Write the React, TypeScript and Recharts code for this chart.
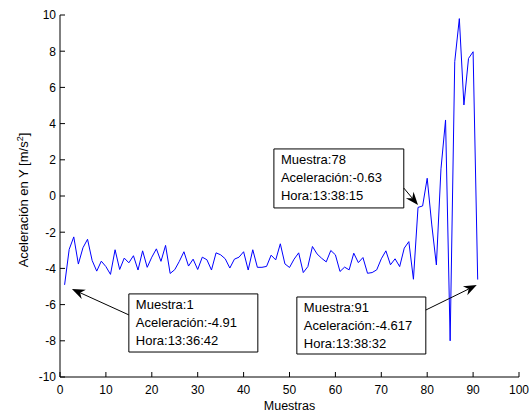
import React from 'react';
import { LineChart, Line, XAxis, YAxis, ReferenceArea, ReferenceLine } from 'recharts';

const FONT = '"Liberation Sans", Arial, Helvetica, sans-serif';

// Sample numbers (Muestras) 1..91
const samples: number[] = Array.from({ length: 91 }, (_, i) => i + 1);

// Acceleration in Y [m/s^2]
const accelY: number[] = [
  -4.91, -2.95, -2.26, -3.76, -2.86, -2.39, -3.56, -4.15, -3.6, -3.9,
  -4.33, -2.97, -4.06, -3.43, -3.69, -3.3, -4.09, -3.03, -3.94, -3.38,
  -2.92, -3.61, -2.73, -4.28, -4.07, -3.61, -3.08, -3.87, -3.49, -4.06,
  -3.38, -3.52, -4.09, -3.14, -3.25, -3.47, -3.98, -3.49, -3.38, -3.08,
  -4.09, -2.97, -3.94, -3.94, -3.89, -3.27, -3.53, -2.64, -3.75, -3.95,
  -3.49, -3.14, -4.23, -3.9, -2.79, -3.2, -3.44, -3.64, -3.01, -3.25,
  -4.17, -3.93, -4.08, -3.16, -3.68, -3.4, -4.27, -4.23, -4.08, -3.47,
  -3.03, -3.8, -3.47, -3.9, -2.88, -2.52, -4.6, -0.63, -0.55, 0.98,
  -1.6, -3.81, 1.5, 4.2, -8.0, 7.42, 9.8, 5.03, 7.6, 7.97,
  -4.617,
];

const xTicks: number[] = [0, 10, 20, 30, 40, 50, 60, 70, 80, 90, 100];
const yTicks: number[] = [-10, -8, -6, -4, -2, 0, 2, 4, 6, 8, 10];

const noteLines1: string[] = ['Muestra:1', 'Aceleración:-4.91', 'Hora:13:36:42'];
const noteLines78: string[] = ['Muestra:78', 'Aceleración:-0.63', 'Hora:13:38:15'];
const noteLines91: string[] = ['Muestra:91', 'Aceleración:-4.617', 'Hora:13:38:32'];

// annotation placement (data coordinates)
const notes = [
  { lines: noteLines1, box: { x1: 15.0, x2: 43.1, y1: -5.41, y2: -8.62 }, tail: { x: 15.0, y: -6.57 }, tip: { x: 2.6, y: -5.14 } },
  { lines: noteLines78, box: { x1: 46.6, x2: 74.9, y1: 2.6, y2: -0.66 }, tail: { x: 74.9, y: 0.44 }, tip: { x: 78.0, y: -0.5 } },
  { lines: noteLines91, box: { x1: 51.6, x2: 79.7, y1: -5.58, y2: -8.73 }, tail: { x: 79.7, y: -6.3 }, tip: { x: 90.8, y: -4.92 } },
];

const data = samples.map((s, i) => ({ muestra: s, acel: accelY[i] }));

const TICK = 5;

const BottomTick = (props: any) => {
  const { x, y, payload } = props;
  return (
    <g>
      <line x1={x} y1={y} x2={x} y2={y - TICK} stroke="#000" strokeWidth={1} />
      <text x={x} y={y + 17} textAnchor="middle" fontFamily={FONT} fontSize={12} fill="#000">
        {payload.value}
      </text>
    </g>
  );
};

const TopTick = (props: any) => {
  const { x, y } = props;
  return <line x1={x} y1={y} x2={x} y2={y + TICK} stroke="#000" strokeWidth={1} />;
};

const LeftTick = (props: any) => {
  const { x, y, payload } = props;
  return (
    <g>
      <line x1={x} y1={y} x2={x + TICK} y2={y} stroke="#000" strokeWidth={1} />
      <text x={x - 4} y={y + 4.3} textAnchor="end" fontFamily={FONT} fontSize={12} fill="#000">
        {payload.value}
      </text>
    </g>
  );
};

const RightTick = (props: any) => {
  const { x, y } = props;
  return <line x1={x} y1={y} x2={x - TICK} y2={y} stroke="#000" strokeWidth={1} />;
};

const YLabel = (props: any) => {
  const vb = props.viewBox || { x: 0, y: 15, width: 60, height: 362 };
  const cy = vb.y + vb.height / 2 + 4;
  return (
    <text
      transform={`translate(${vb.x + 28}, ${cy}) rotate(-90)`}
      textAnchor="middle"
      fontFamily={FONT}
      fontSize={13}
      fill="#000"
    >
      <tspan>Aceleración en Y [m/s</tspan>
      <tspan dy={-5} fontSize={9}>2</tspan>
      <tspan dy={5}>]</tspan>
    </text>
  );
};

const XLabel = (props: any) => {
  const vb = props.viewBox || { x: 60, y: 377, width: 459, height: 38 };
  return (
    <text x={vb.x + vb.width / 2} y={vb.y + 33} textAnchor="middle" fontFamily={FONT} fontSize={12.5} fill="#000">
      Muestras
    </text>
  );
};

const makeBoxLabel = (lines: string[]) => (props: any) => {
  const vb = props.viewBox || { x: 0, y: 0 };
  const x = vb.x + 7;
  return (
    <text fontFamily={FONT} fontSize={13} fill="#000">
      {lines.map((l, i) => (
        <tspan key={i} x={x} y={vb.y + 15.5 + i * 18}>
          {l}
        </tspan>
      ))}
    </text>
  );
};

const arrowShape = (props: any) => {
  const { x1, y1, x2, y2 } = props;
  const dx = x2 - x1;
  const dy = y2 - y1;
  const len = Math.hypot(dx, dy) || 1;
  const ux = dx / len;
  const uy = dy / len;
  const nx = -uy;
  const ny = ux;
  const L = 13;
  const W = 5;
  const N = 9;
  const bx = x2 - ux * L;
  const by = y2 - uy * L;
  const pts = `${x2},${y2} ${bx + nx * W},${by + ny * W} ${x2 - ux * N},${y2 - uy * N} ${bx - nx * W},${by - ny * W}`;
  return (
    <g>
      <line x1={x1} y1={y1} x2={x2 - ux * N} y2={y2 - uy * N} stroke="#000" strokeWidth={1} />
      <polygon points={pts} fill="#000" />
    </g>
  );
};

export default function App() {
  return (
    <div style={{ position: 'absolute', left: 0, top: 0, width: 530, height: 415, background: '#fff' }}>
      <LineChart width={530} height={415} data={data} margin={{ top: 15, right: 11, bottom: 0, left: 0 }}>
        <XAxis
          xAxisId="b"
          dataKey="muestra"
          type="number"
          domain={[0, 100]}
          ticks={xTicks}
          interval={0}
          height={38}
          tickSize={0}
          tickMargin={0}
          tickLine={false}
          axisLine={{ stroke: '#000', strokeWidth: 1 }}
          tick={BottomTick}
          label={XLabel}
        />
        <XAxis
          xAxisId="t"
          orientation="top"
          dataKey="muestra"
          type="number"
          domain={[0, 100]}
          ticks={xTicks}
          interval={0}
          height={0}
          tickSize={0}
          tickMargin={0}
          tickLine={false}
          axisLine={{ stroke: '#000', strokeWidth: 1 }}
          tick={TopTick}
        />
        <YAxis
          yAxisId="l"
          type="number"
          domain={[-10, 10]}
          ticks={yTicks}
          interval={0}
          width={60}
          tickSize={0}
          tickMargin={0}
          tickLine={false}
          axisLine={{ stroke: '#000', strokeWidth: 1 }}
          tick={LeftTick}
          label={YLabel}
        />
        <YAxis
          yAxisId="r"
          orientation="right"
          type="number"
          domain={[-10, 10]}
          ticks={yTicks}
          interval={0}
          width={0}
          tickSize={0}
          tickMargin={0}
          tickLine={false}
          axisLine={{ stroke: '#000', strokeWidth: 1 }}
          tick={RightTick}
        />
        <Line
          xAxisId="b"
          yAxisId="l"
          type="linear"
          dataKey="acel"
          stroke="#0000ff"
          strokeWidth={1}
          dot={false}
          activeDot={false}
          isAnimationActive={false}
        />
        {notes.map((n, i) => (
          <ReferenceLine
            key={`a${i}`}
            xAxisId="b"
            yAxisId="l"
            segment={[n.tail, n.tip]}
            shape={arrowShape}
            ifOverflow="visible"
          />
        ))}
        {notes.map((n, i) => (
          <ReferenceArea
            key={`b${i}`}
            xAxisId="b"
            yAxisId="l"
            x1={n.box.x1}
            x2={n.box.x2}
            y1={n.box.y1}
            y2={n.box.y2}
            fill="#ffffff"
            fillOpacity={1}
            stroke="#000"
            strokeWidth={1}
            ifOverflow="visible"
            label={makeBoxLabel(n.lines)}
          />
        ))}
      </LineChart>
    </div>
  );
}
